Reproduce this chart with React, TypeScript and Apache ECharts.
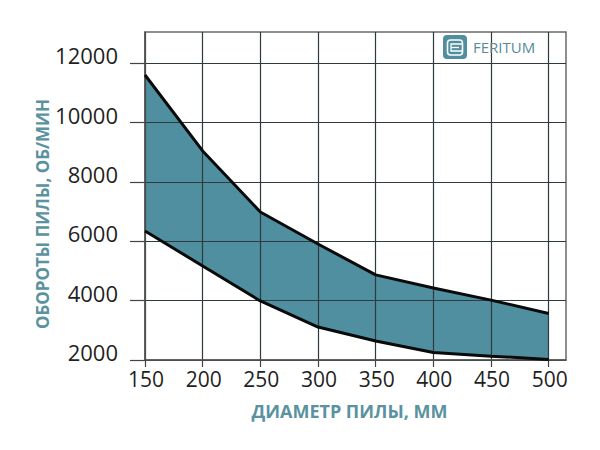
import React, { useEffect, useRef } from "react";
import * as echarts from "echarts";

const diameters = [150, 200, 250, 300, 350, 400, 450, 500];
const upperRpm = [11610, 9050, 6990, 5910, 4870, 4430, 4020, 3570];
const lowerRpm = [6350, 5170, 3990, 3110, 2640, 2250, 2130, 2020];
const rpmTicks = [2000, 4000, 6000, 8000, 10000, 12000];
const xTitle = "ДИАМЕТР ПИЛЫ, ММ";
const yTitle = "ОБОРОТЫ ПИЛЫ, ОБ/МИН";
const brand = "FERITUM";

const TEAL = "#4f8fa0";
const TITLE = "#5a929f";
const FONT = "'Open Sans', sans-serif";

export default function App() {
  const ref = useRef<HTMLDivElement>(null);
  useEffect(() => {
    const chart = echarts.init(ref.current!, undefined, { renderer: "svg" });
    chart.setOption({
      animation: false,
      backgroundColor: "#fff",
      grid: { left: 145, top: 32, right: 34, bottom: 90, show: true, borderColor: "#6a6a6a", borderWidth: 1.5, backgroundColor: "transparent", z: 3 },
      xAxis: {
        type: "value",
        min: 150,
        max: 515,
        z: 3,
        axisLine: { show: true, lineStyle: { color: "#555", width: 1.5 } },
        axisTick: { show: true, length: 7, customValues: diameters, lineStyle: { color: "#444", width: 1.2 } },
        axisLabel: { customValues: diameters, formatter: (v: number) => String(v), fontFamily: FONT, fontSize: 21, color: "#1f1f1f", margin: 8, padding: [0, 0, 0, 2], showMinLabel: true, showMaxLabel: true },
        splitLine: { show: true, lineStyle: { color: "#2f3a3f", width: 1.2 } },
      },
      yAxis: {
        type: "value",
        min: 2000,
        max: 13060,
        z: 3,
        axisLine: { show: true, lineStyle: { color: "#555", width: 1.5 } },
        axisTick: { show: true, length: 15, customValues: rpmTicks, lineStyle: { color: "#444", width: 1.2 } },
        axisLabel: { customValues: rpmTicks, formatter: (v: number) => String(v), fontFamily: FONT, fontSize: 22, color: "#1f1f1f", margin: 27, verticalAlign: "bottom", lineHeight: 16, showMinLabel: true, showMaxLabel: true },
        splitLine: { show: true, lineStyle: { color: "#2f3a3f", width: 1.2 } },
      },
      series: [
        {
          type: "custom",
          z: 1,
          silent: true,
          coordinateSystem: "cartesian2d",
          data: [0],
          renderItem: (_: unknown, api: any) => {
            const pts = [
              ...diameters.map((d, i) => api.coord([d, upperRpm[i]])),
              ...diameters.map((d, i) => api.coord([d, lowerRpm[i]])).reverse(),
            ];
            return { type: "polygon", shape: { points: pts }, style: { fill: TEAL } };
          },
        },
        { type: "line", data: diameters.map((d, i) => [d, upperRpm[i]]), symbol: "none", lineStyle: { color: "#0a0a0a", width: 3 }, z: 5, silent: true },
        { type: "line", data: diameters.map((d, i) => [d, lowerRpm[i]]), symbol: "none", lineStyle: { color: "#0a0a0a", width: 3 }, z: 5, silent: true },
      ],
      graphic: [
        { type: "text", x: 349.5, y: 411, z: 10, style: { text: xTitle, fill: TITLE, font: `700 18px ${FONT}`, align: "center", verticalAlign: "middle" } },
        { type: "text", x: 42, y: 214, rotation: Math.PI / 2, z: 10, style: { text: yTitle, fill: TITLE, font: `700 17px ${FONT}`, align: "center", verticalAlign: "middle" } },
        { type: "rect", z: 10, shape: { x: 443, y: 35, width: 24, height: 24, r: 4 }, style: { fill: "#4f8fa0" } },
        { type: "rect", z: 11, shape: { x: 447.5, y: 40, width: 15, height: 15, r: 3 }, style: { fill: "none", stroke: "#fff", lineWidth: 1.6 } },
        { type: "polyline", z: 11, shape: { points: [[462, 44], [451, 44], [451, 51], [462, 51]] }, style: { fill: "none", stroke: "#fff", lineWidth: 1.3 } },
        { type: "line", z: 11, shape: { x1: 451, y1: 47.5, x2: 459, y2: 47.5 }, style: { stroke: "#fff", lineWidth: 1.3 } },
        { type: "text", x: 473, y: 47, z: 10, style: { text: brand, fill: "#588b98", font: `400 15px ${FONT}`, align: "left", verticalAlign: "middle" } },
      ],
    });
    return () => chart.dispose();
  }, []);
  return <div ref={ref} style={{ position: "fixed", left: 0, top: 0, width: 600, height: 450 }} />;
}
